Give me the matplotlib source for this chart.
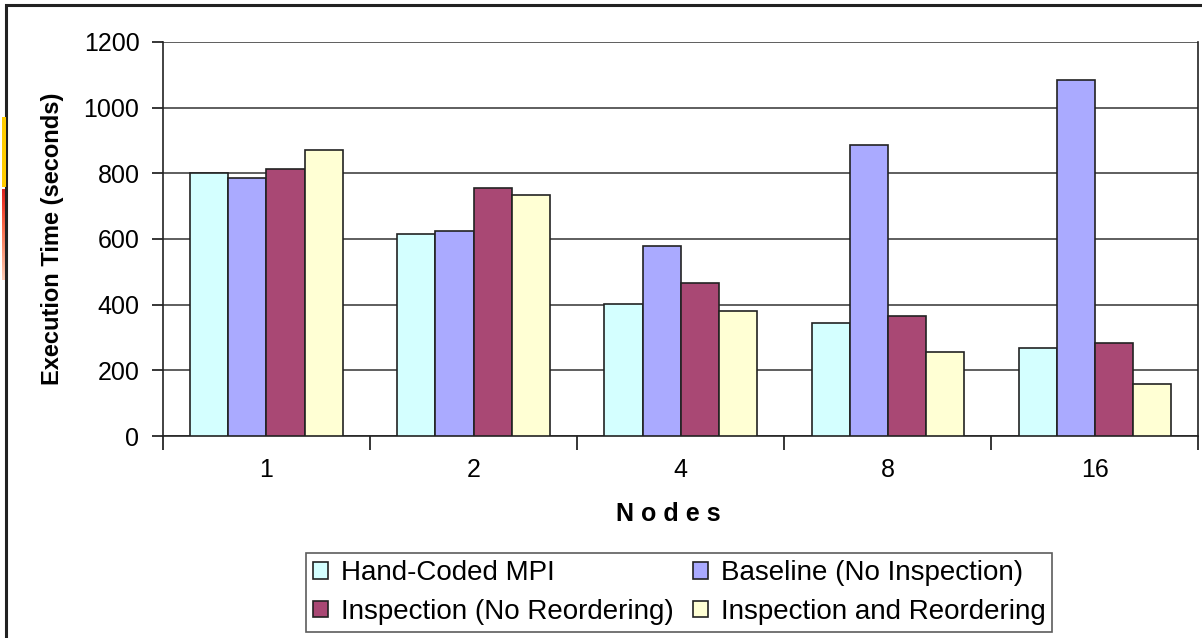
import matplotlib.pyplot as plt
import numpy as np
from matplotlib.patches import Rectangle

plt.rcParams['font.family'] = ['Liberation Sans', 'DejaVu Sans']

nodes = ['1', '2', '4', '8', '16']
hand_coded = [800, 614, 401, 345, 267]
baseline = [786, 625, 579, 885, 1084]
insp_no_reorder = [812, 754, 465, 365, 282]
insp_reorder = [870, 734, 381, 255, 157]

series = [
    ('Hand-Coded MPI', hand_coded, '#D4FFFF'),
    ('Baseline (No Inspection)', baseline, '#AAAAFF'),
    ('Inspection (No Reordering)', insp_no_reorder, '#A94874'),
    ('Inspection and Reordering', insp_reorder, '#FFFFD4'),
]

fig = plt.figure(figsize=(12.02, 6.38), dpi=100)
ax = fig.add_axes([0.1356, 0.3166, 0.8611, 0.6176])

x = np.arange(len(nodes))
w = 0.1836
bars = []
for i, (name, vals, col) in enumerate(series):
    b = ax.bar(x + (i - 1.5) * w, vals, w, color=col, edgecolor='#222222',
               linewidth=1.2, label=name, zorder=3)
    bars.append(b)

ax.set_xlim(-0.5, len(nodes) - 0.5)
ax.set_ylim(0, 1200)
ax.set_yticks(range(0, 1201, 200))
ax.yaxis.grid(True, color='#333333', linewidth=1.1, zorder=0)
ax.tick_params(axis='y', direction='out', length=8, width=1.1, labelsize=18, pad=9)

ax.set_xticks(x)
ax.set_xticklabels(nodes)
ax.tick_params(axis='x', which='major', length=0, labelsize=18, pad=16)
ax.set_xticks(np.arange(-0.5, len(nodes)), minor=True)
ax.tick_params(axis='x', which='minor', direction='out', length=10, width=1.1)

for s in ['left', 'bottom', 'right']:
    ax.spines[s].set_color('#222222')
    ax.spines[s].set_linewidth(1.2)
ax.spines['top'].set_visible(False)

ax.set_ylabel('Execution Time (seconds)', fontsize=17, fontweight='bold', labelpad=14)
ax.set_xlabel('N o d e s', fontsize=18, fontweight='bold', labelpad=14, x=0.488)

handles = [bars[0], bars[2], bars[1], bars[3]]
labels = [series[0][0], series[2][0], series[1][0], series[3][0]]
leg = fig.legend(handles, labels, loc='center', bbox_to_anchor=(0.565, 0.0713),
                 ncol=2, fontsize=20, frameon=True, fancybox=False,
                 handlelength=0.55, handleheight=0.55, handletextpad=0.45,
                 columnspacing=0.7, labelspacing=0.45, borderpad=0.25,
                 borderaxespad=0)
leg.get_frame().set_edgecolor('#333333')
leg.get_frame().set_linewidth(1.2)

# outer frame and side strip
fig.add_artist(Rectangle((6 / 1202, -0.1), 1.2, 1.1 - 5 / 638, transform=fig.transFigure,
                         fill=False, edgecolor='#222222', linewidth=2.2))
fig.add_artist(Rectangle((2 / 1202, 1 - 187 / 638), 4 / 1202, 70 / 638,
                         transform=fig.transFigure, color='#FFCC00', linewidth=0))
strip = fig.add_axes([2 / 1202, 1 - 280 / 638, 4 / 1202, 91 / 638])
strip.imshow(np.linspace(1, 0, 50).reshape(-1, 1), cmap='Reds', vmin=-0.4, vmax=1.6,
             aspect='auto')
strip.set_axis_off()

fig.savefig('out.png', dpi=100)
